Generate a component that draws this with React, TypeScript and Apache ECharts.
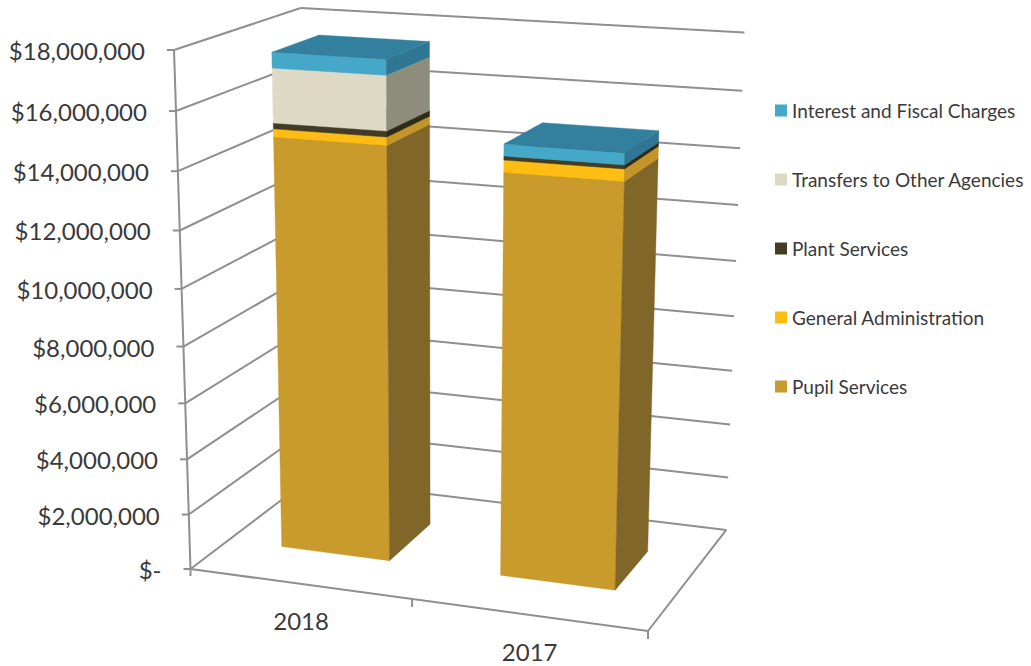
import React, { useEffect, useRef } from "react";
import * as echarts from "echarts";

const categories = ["2018", "2017"];
const tickValues = [0, 2000000, 4000000, 6000000, 8000000, 10000000, 12000000, 14000000, 16000000, 18000000];
const tickLabels = ["$-", "$2,000,000", "$4,000,000", "$6,000,000", "$8,000,000", "$10,000,000", "$12,000,000", "$14,000,000", "$16,000,000", "$18,000,000"];
const pupilServices = [14710000, 14100000];
const generalAdministration = [280000, 410000];
const plantServices = [200000, 130000];
const transfersToOtherAgencies = [1860000, 0];
const interestAndFiscalCharges = [530000, 400000];
const seriesNames = ["Pupil Services", "General Administration", "Plant Services", "Transfers to Other Agencies", "Interest and Fiscal Charges"];
const seriesValues = [pupilServices, generalAdministration, plantServices, transfersToOtherAgencies, interestAndFiscalCharges];
const frontColors = ["#C99A2C", "#FDBD12", "#423C26", "#DDD9C5", "#45A8C8"];
const sideColors = ["#806629", "#C29429", "#2E2A1A", "#8E8D7B", "#2E7693"];
const topColors = ["#A98226", "#D9A420", "#37321F", "#B9B6A4", "#33809E"];

// Projective camera: unit box (x along categories, y up the value axis, z into the page).
const O = [190.5, 569];
const AX = [418, 23.5];
const AY = [-27.3, -522.1];
const AZ = [150.8, -38.5];
const DW = [-0.061, -0.0622, 0.1065];
const project = (x: number, y: number, z: number) => {
  const d = 1 + DW[0] * x + DW[1] * y + DW[2] * z;
  return [
    (O[0] + AX[0] * x + AY[0] * y + AZ[0] * z) / d,
    (O[1] + AX[1] * x + AY[1] * y + AZ[1] * z) / d,
  ];
};
const BAR_Z0 = 0.305;
const BAR_Z1 = 0.695;
const LINE = "#8F8F8F";
const TEXT = "#3A3A3A";
const FONT = "Lato";

const lineEl = (a: number[], b: number[]) => ({
  type: "line",
  silent: true,
  shape: { x1: a[0], y1: a[1], x2: b[0], y2: b[1] },
  style: { stroke: LINE, lineWidth: 2 },
});
const face = (pts: number[][], fill: string) => ({
  type: "polygon",
  silent: true,
  shape: { points: pts },
  style: { fill, stroke: fill, lineWidth: 0.4 },
});

const fracs = (params: any, api: any, cat: number, val: number) => {
  const sys = params.coordSys;
  const c = api.coord([cat, val]);
  return [(c[0] - sys.x) / sys.width, 1 - (c[1] - sys.y) / sys.height];
};

const renderValueTick = (params: any, api: any) => {
  const v = api.value(1);
  const t = fracs(params, api, 0, v)[1];
  const front = project(0, t, 0);
  const back = project(0, t, 1);
  const right = project(1, t, 1);
  return {
    type: "group",
    children: [
      lineEl(front, back),
      lineEl(back, right),
      lineEl([front[0] - 7, front[1]], front),
      {
        type: "text",
        silent: true,
        style: {
          text: tickLabels[params.dataIndex],
          x: front[0] - 29,
          y: front[1] + 0.5,
          align: "right",
          verticalAlign: "middle",
          fontFamily: FONT,
          fontSize: 24,
          fill: TEXT,
        },
      },
    ],
  };
};

const renderFrame = (params: any, api: any) => {
  return {
    type: "group",
    children: [
      lineEl(project(0, 0, 0), project(0, 1, 0)),
      lineEl(project(0, 0, 0), project(1, 0, 0)),
      lineEl(project(1, 0, 0), project(1, 0, 1)),
      lineEl(project(0, 0, 0), [project(0, 0, 0)[0], project(0, 0, 0)[1] + 7]),
      lineEl(project(0.5, 0, 0), [project(0.5, 0, 0)[0], project(0.5, 0, 0)[1] + 8]),
      lineEl(project(1, 0, 0), [project(1, 0, 0)[0], project(1, 0, 0)[1] + 8]),
    ],
  };
};

const renderCategory = (params: any, api: any) => {
  const cat = api.value(0);
  const fx = fracs(params, api, cat, 0)[0];
  const p = project(fx, 0, 0);
  return {
    type: "text",
    silent: true,
    style: {
      text: categories[cat],
      x: p[0] + 1.5,
      y: p[1] + 37,
      align: "center",
      verticalAlign: "middle",
      fontFamily: FONT,
      fontSize: 24,
      fill: TEXT,
    },
  };
};

const renderSegment = (idx: number) => (params: any, api: any) => {
  const cat = api.value(0);
  const start = api.value(1);
  const end = api.value(2);
  if (start === end) return { type: "group", children: [] };
  const fx = fracs(params, api, cat, start)[0];
  const y0 = fracs(params, api, cat, start)[1];
  const y1 = fracs(params, api, cat, end)[1];
  const half = api.size([1, 0])[0] / params.coordSys.width / 4;
  const x0 = fx - half;
  const x1 = fx + half;
  const a = project(x0, y0, BAR_Z0);
  const b = project(x1, y0, BAR_Z0);
  const c = project(x1, y1, BAR_Z0);
  const d = project(x0, y1, BAR_Z0);
  const e = project(x1, y0, BAR_Z1);
  const f = project(x1, y1, BAR_Z1);
  const g = project(x0, y1, BAR_Z1);
  return {
    type: "group",
    children: [
      face([a, b, c, d], frontColors[idx]),
      face([b, e, f, c], sideColors[idx]),
      face([d, c, f, g], topColors[idx]),
    ],
  };
};

const stacks = (() => {
  const running = categories.map(() => 0);
  return seriesValues.map((vals) =>
    vals.map((v, i) => {
      const row = [i, running[i], running[i] + v];
      running[i] += v;
      return row;
    })
  );
})();

export default function App() {
  const ref = useRef<HTMLDivElement>(null);
  useEffect(() => {
    const chart = echarts.init(ref.current!, undefined, { renderer: "svg" });
    chart.setOption({
      animation: false,
      backgroundColor: "#FFFFFF",
      grid: { left: 0, top: 0, right: 0, bottom: 0 },
      xAxis: { type: "category", data: categories, show: false },
      yAxis: { type: "value", min: 0, max: 18000000, interval: 2000000, show: false },
      legend: {
        show: true,
        orient: "vertical",
        left: 770,
        top: 96,
        itemWidth: 12,
        itemHeight: 12,
        itemGap: 50,
        icon: "rect",
        selectedMode: false,
        data: [...seriesNames].reverse(),
        textStyle: { fontFamily: FONT, fontSize: 19, color: TEXT },
      },
      series: [
        {
          type: "custom",
          name: "value ticks",
          coordinateSystem: "cartesian2d",
          clip: false,
          z: 1,
          silent: true,
          data: tickValues.map((v) => [0, v]),
          renderItem: renderValueTick,
        },
        {
          type: "custom",
          name: "frame",
          coordinateSystem: "cartesian2d",
          clip: false,
          z: 1,
          silent: true,
          data: [[0, 0]],
          renderItem: renderFrame,
        },
        {
          type: "custom",
          name: "categories",
          coordinateSystem: "cartesian2d",
          clip: false,
          z: 1,
          silent: true,
          data: categories.map((_, i) => [i, 0]),
          renderItem: renderCategory,
        },
        ...seriesNames.map((name, i) => ({
          type: "custom",
          name,
          coordinateSystem: "cartesian2d",
          clip: false,
          z: 2 + i,
          silent: true,
          itemStyle: { color: frontColors[i] },
          data: stacks[i],
          renderItem: renderSegment(i),
        })),
      ],
    });
    return () => chart.dispose();
  }, []);
  return <div ref={ref} style={{ position: "absolute", left: 0, top: 0, width: 1031, height: 666 }} />;
}
